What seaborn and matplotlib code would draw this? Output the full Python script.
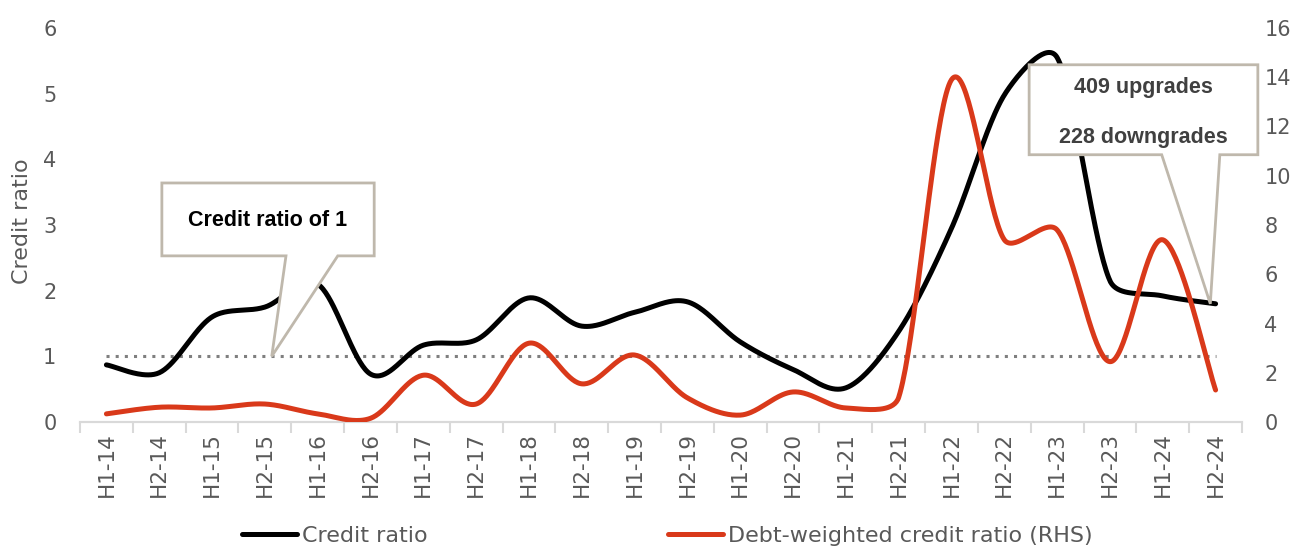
import numpy as np
import pandas as pd
import matplotlib.pyplot as plt
import seaborn as sns
from matplotlib.patches import Polygon
from matplotlib.lines import Line2D

# 数据
periods = ["H1-14", "H2-14", "H1-15", "H2-15", "H1-16", "H2-16", "H1-17", "H2-17",
           "H1-18", "H2-18", "H1-19", "H2-19", "H1-20", "H2-20", "H1-21", "H2-21",
           "H1-22", "H2-22", "H1-23", "H2-23", "H1-24", "H2-24"]
credit_ratio = [0.87, 0.75, 1.6, 1.75, 2.1, 0.73, 1.17, 1.25, 1.89, 1.46, 1.67,
                1.83, 1.22, 0.8, 0.52, 1.38, 2.95, 4.98, 5.55, 2.15, 1.92, 1.8]
debt_weighted = [0.33, 0.6, 0.57, 0.73, 0.33, 0.15, 1.9, 0.73, 3.2, 1.55, 2.72,
                 0.98, 0.28, 1.22, 0.57, 1.0, 13.9, 7.4, 7.8, 2.45, 7.4, 1.3]
reference_level = 1

BLACK = "#000000"
RED = "#D9391A"
GREY_TXT = "#595959"
CALLOUT_EDGE = "#BFB8AC"


def smooth(vals, sx, sy, n=40):
    # Excel 风格的平滑线：Catmull-Rom，短线段处收紧控制点
    P = np.column_stack([np.arange(len(vals)) * sx, np.asarray(vals) * sy])
    m = len(P)
    tang = np.zeros_like(P)
    for i in range(m):
        tang[i] = (P[min(i + 1, m - 1)] - P[max(i - 1, 0)]) / 6
    xs, ys = [], []
    for i in range(m - 1):
        p1, p2 = P[i], P[i + 1]
        L = np.linalg.norm(p2 - p1) / 3
        h1 = tang[i] * min(1, L / max(np.linalg.norm(tang[i]), 1e-9))
        h2 = tang[i + 1] * min(1, L / max(np.linalg.norm(tang[i + 1]), 1e-9))
        c1 = p1 + h1
        c2 = p2 - h2
        t = np.linspace(0, 1, n, endpoint=False)[:, None]
        pts = (1 - t) ** 3 * p1 + 3 * (1 - t) ** 2 * t * c1 + 3 * (1 - t) * t ** 2 * c2 + t ** 3 * p2
        xs.append(pts[:, 0])
        ys.append(pts[:, 1])
    xs.append([P[-1, 0]])
    ys.append([P[-1, 1]])
    return np.concatenate(xs) / sx, np.concatenate(ys) / sy


sns.set_style("white")
plt.rcParams["font.family"] = ["DejaVu Sans"]

fig = plt.figure(figsize=(12.93, 5.47), dpi=100)
ax = fig.add_axes([80 / 1293, 125 / 547, 1162 / 1293, 394 / 547])
ax2 = ax.twinx()

sx = 52.8
bx, by = smooth(credit_ratio, sx, 65.7)
rx, ry = smooth(debt_weighted, sx, 24.6)
df_b = pd.DataFrame({"x": bx, "y": by})
df_r = pd.DataFrame({"x": rx, "y": ry})

ax.hlines(reference_level, 0, len(periods) - 1, colors="#7F7F7F",
          linestyles=(0, (1, 2)), linewidth=2.2, zorder=1)
sns.lineplot(data=df_b, x="x", y="y", ax=ax, color=BLACK, linewidth=3.6,
             sort=False, estimator=None, zorder=3)
sns.lineplot(data=df_r, x="x", y="y", ax=ax2, color=RED, linewidth=3.6,
             sort=False, estimator=None, zorder=3)
for a in (ax, ax2):
    if a.get_legend() is not None:
        a.get_legend().remove()

ax.set_xlim(-0.5, len(periods) - 0.5)
ax.set_ylim(0, 6)
ax2.set_ylim(0, 16)
ax.set_xticks(range(len(periods)))
ax.set_xticklabels(periods, rotation=90, fontsize=15.5, color=GREY_TXT)
ax.set_xticks(np.arange(-0.5, len(periods)), minor=True)
ax.tick_params(axis="x", which="major", length=0, pad=7)
ax.tick_params(axis="x", which="minor", length=8, width=1.5, color="#D9D9D9", bottom=True)
ax.set_yticks(range(0, 7))
ax.tick_params(axis="y", length=0, pad=17, labelsize=15, labelcolor=GREY_TXT)
ax2.set_yticks(range(0, 17, 2))
ax2.tick_params(axis="y", length=0, pad=16, labelsize=15, labelcolor=GREY_TXT)
ax.set_xlabel("")
ax2.set_xlabel("")
ax2.set_ylabel("")
ax.set_ylabel("Credit ratio", fontsize=16, color=GREY_TXT)
ax.yaxis.set_label_coords(-48 / 1162, 0.51)

for a in (ax, ax2):
    for s in ("top", "left", "right"):
        a.spines[s].set_visible(False)
    a.spines["bottom"].set_color("#D9D9D9")
    a.spines["bottom"].set_linewidth(1.5)
    a.grid(False)

# 标注框
box1 = [(1.05, 3.64), (5.07, 3.64), (5.07, 2.53), (4.38, 2.53),
        (3.13, reference_level), (3.40, 2.53), (1.05, 2.53)]
box2 = [(17.47, 5.44), (21.80, 5.44), (21.80, 4.07), (21.08, 4.07),
        (20.9, credit_ratio[-1]), (19.98, 4.07), (17.47, 4.07)]
for pts in (box1, box2):
    ax2.add_patch(Polygon(pts, closed=True, facecolor="white", edgecolor=CALLOUT_EDGE,
                          linewidth=2, transform=ax.transData, zorder=5, clip_on=False))

txt_kw = dict(transform=ax.transData, ha="center", va="center", fontsize=15.5,
              fontweight="bold", family=["Liberation Sans"], zorder=6)
ax2.text(3.06, 3.07, "Credit ratio of 1", color="black", **txt_kw)
ax2.text(19.63, 5.09, "409 upgrades", color="#404040", **txt_kw)
ax2.text(19.63, 4.33, "228 downgrades", color="#404040", **txt_kw)

handles = [Line2D([], [], color=BLACK, linewidth=3.6, solid_capstyle="round"),
           Line2D([], [], color=RED, linewidth=3.6, solid_capstyle="round")]
fig.legend(handles, ["Credit ratio", "Debt-weighted credit ratio (RHS)"],
           loc="center", bbox_to_anchor=(667 / 1293, 1 - 536 / 547), ncol=2,
           frameon=False, fontsize=16, labelcolor=GREY_TXT, handlelength=2.5,
           handletextpad=0.2, columnspacing=10.8)

plt.savefig("out.png", dpi=100)
